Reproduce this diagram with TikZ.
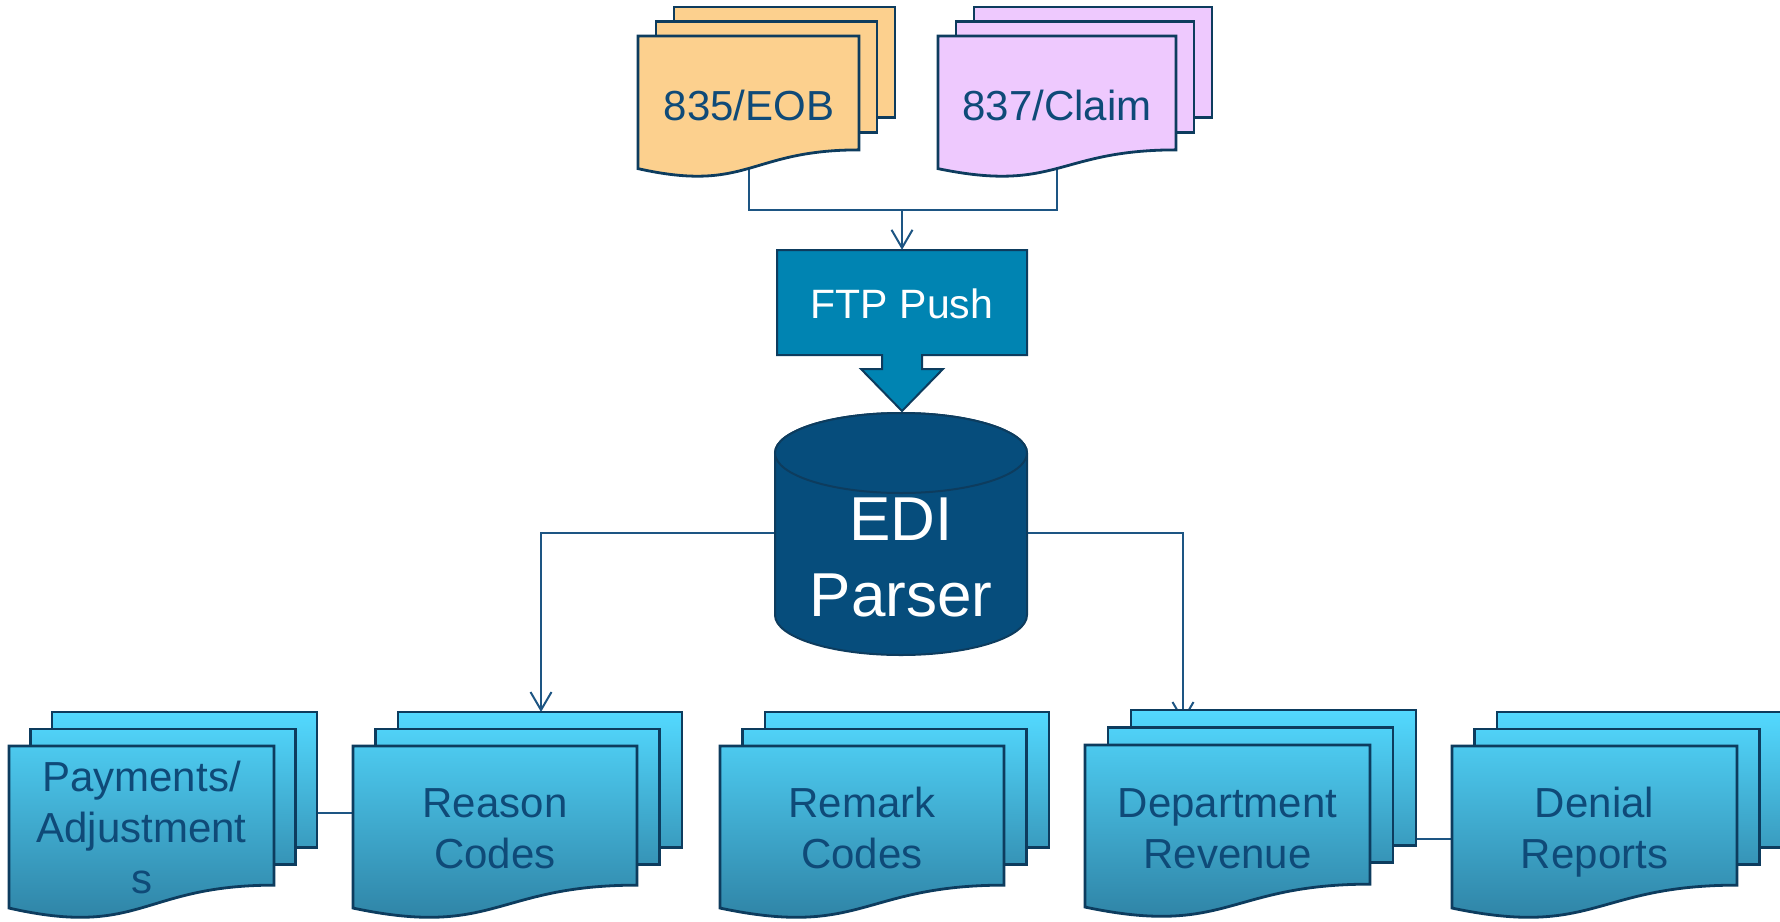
\documentclass[tikz,border=0pt]{standalone}
\usepackage{fontspec}
\setmainfont{Liberation Sans}
\usetikzlibrary{arrows.meta}

\definecolor{edge}{HTML}{0D3C5E}
\definecolor{wirecol}{HTML}{1D5583}
\definecolor{ink}{HTML}{0F4A78}
\definecolor{eobfill}{HTML}{FCD08E}
\definecolor{claimfill}{HTML}{EEC9FE}
\definecolor{ftpfill}{HTML}{0084B2}
\definecolor{dbfill}{HTML}{064D7C}
\definecolor{cyantop}{HTML}{53D9FF}
\definecolor{cyanbot}{HTML}{2C7C9E}

\tikzset{
  page/.style={draw=edge, line width=2.8pt, line join=miter},
  eob back/.style={page, fill=eobfill},
  eob mid/.style={page, fill=eobfill},
  eob front/.style={page, fill=eobfill},
  claim back/.style={page, fill=claimfill},
  claim mid/.style={page, fill=claimfill},
  claim front/.style={page, fill=claimfill},
  % one gradient running down the whole stack
  out back/.style={page, top color=cyantop, bottom color=cyanbot!66!cyantop},
  out mid/.style={page, top color=cyanbot!8!cyantop, bottom color=cyanbot!75!cyantop},
  out front/.style={page, top color=cyanbot!17!cyantop, bottom color=cyanbot},
  wire/.style={draw=wirecol, line width=2pt},
  wirearrow/.style={wire, -{Straight Barb[length=18pt, width=21pt]}},
  doclabel/.style={text=ink, font=\fontsize{42pt}{51pt}\selectfont, align=center, inner sep=0pt, anchor=base},
}

% stack of three pages: #1 style family, #2 left, #3 top, #4 width, #5 height,
% #6/#7 horizontal/vertical offset of each page behind
\newcommand\docstack[7]{%
  \path[#1 back] (#2+2*#6, #3-2*#7) rectangle ++(#4, 0.78*#5);
  \path[#1 mid] (#2+#6, #3-#7) rectangle ++(#4, 0.78*#5);
  \path[#1 front] (#2,#3) -- ++(#4,0) -- ++(0,0.802*#5)
    .. controls (#2+0.5*#4, #3+0.802*#5) and (#2+0.5*#4, #3+1.1075*#5) ..
    (#2, #3+0.934*#5) -- cycle;
}

\begin{document}
\begin{tikzpicture}[x=1pt, y=-1pt]
\path[use as bounding box] (0,0) rectangle (1780,921);
\clip (0,0) rectangle (1780,921);

% connector end points
\coordinate (eob-out) at (749,160);
\coordinate (claim-out) at (1057,160);
\coordinate (merge) at (902,210);
\coordinate (edi-w) at (775,533);
\coordinate (edi-e) at (1027,533);
\coordinate (reason-in) at (541,712);
\coordinate (dept-in) at (1183,722);
\coordinate (pay-link) at (316,813);
\coordinate (reason-link) at (353,813);
\coordinate (dept-link) at (1416,839);
\coordinate (denial-link) at (1452,839);

% FTP push box with its block arrow
\node[minimum width=250pt, minimum height=105pt, inner sep=0pt] (ftp) at (902,302.5) {};
\path[draw=edge, line width=2pt, fill=ftpfill]
  (777,250) -- (1027,250) -- (1027,355) -- (922,355) -- (922,369) -- (943,369)
  -- (902,411) -- (861,369) -- (882,369) -- (882,355) -- (777,355) -- cycle;
\node[text=white, font=\fontsize{41pt}{49pt}\selectfont, anchor=base] (ftp-label) at (902,318) {FTP Push};

% connectors
\draw[wire] (eob-out) |- (merge) -| (claim-out);
\draw[wirearrow] (merge) -- (ftp.north);
\draw[wirearrow] (edi-w) -| (reason-in);
\draw[wirearrow] (edi-e) -| (dept-in);
\draw[wire, line width=1.3pt] (pay-link) -- (reason-link);
\draw[wire] (dept-link) -- (denial-link);

% incoming files
\docstack{eob}{638}{36}{221}{142}{18}{14.5}
\docstack{claim}{938}{36}{238}{142}{18}{14.5}
\node[doclabel] (eob) at (749,120) {835/EOB};
\node[doclabel] (claim) at (1057,120) {837/Claim};

% parser database
\path[draw=edge, line width=2pt, fill=dbfill]
  (775,453) -- (775,615) .. controls (775,637.1) and (831.4,655) .. (901,655)
  .. controls (970.6,655) and (1027,637.1) .. (1027,615) -- (1027,453)
  .. controls (1027,430.9) and (970.6,413) .. (901,413)
  .. controls (831.4,413) and (775,430.9) .. (775,453) -- cycle;
\path[draw=edge, line width=2pt, fill=dbfill] (901,453) ellipse [x radius=126, y radius=40];
% the base anchor of a multi-line label sits on its last line
\node[text=white, font=\fontsize{62pt}{76pt}\selectfont, align=center, inner sep=0pt, anchor=base] (edi) at (901,616) {EDI\\Parser};

% output files
\docstack{out}{9}{746}{265}{173.5}{21.5}{17}
\docstack{out}{353}{746}{284}{173.5}{22.5}{17}
\docstack{out}{720}{746}{284}{173.5}{22.5}{17}
\docstack{out}{1085}{745}{285}{173.5}{23}{17.5}
\docstack{out}{1452}{746}{285}{173.5}{22.5}{17}

\node[doclabel] (payments) at (141.5,893.5) {Payments/\\Adjustment\\s};
\node[doclabel] (reason) at (495,868) {Reason\\Codes};
\node[doclabel] (remark) at (862,868) {Remark\\Codes};
\node[doclabel] (dept) at (1227.5,868) {Department\\Revenue};
\node[doclabel] (denial) at (1594.5,868) {Denial\\Reports};
\end{tikzpicture}
\end{document}
